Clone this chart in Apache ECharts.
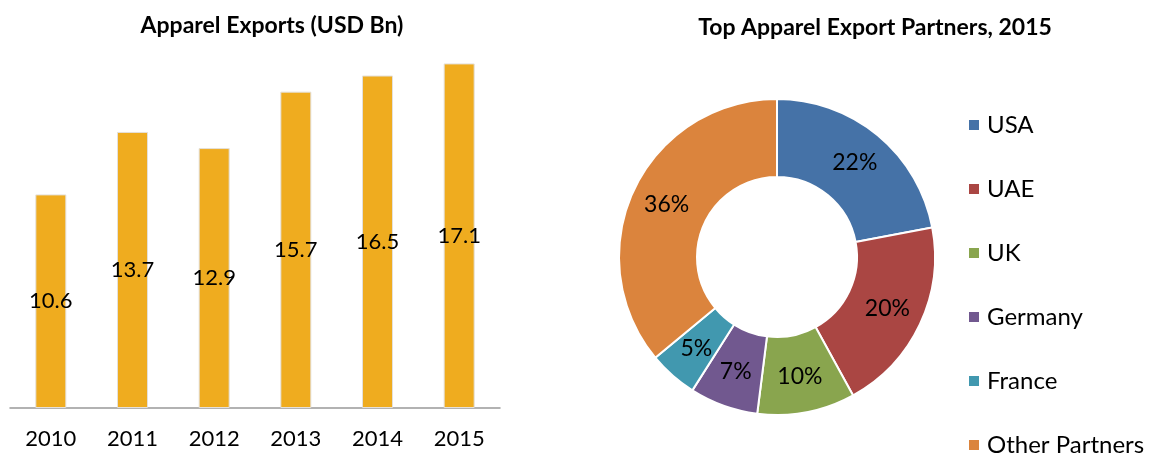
<!DOCTYPE html>
<html>
<head>
<meta charset="utf-8">
<script src="https://cdn.jsdelivr.net/npm/echarts@6/dist/echarts.min.js"></script>
<style>
  html, body { margin: 0; padding: 0; background: #fff; }
  #main { width: 1154px; height: 457px; }
</style>
</head>
<body>
<div id="main"></div>
<script>
// bar chart data
var years = ['2010', '2011', '2012', '2013', '2014', '2015'];
var exportsBn = [10.6, 13.7, 12.9, 15.7, 16.5, 17.1];

// donut data
var partners = ['USA', 'UAE', 'UK', 'Germany', 'France', 'Other Partners'];
var partnerShare = [22, 20, 10, 7, 5, 36];
var partnerColors = ['#4572A7', '#AA4643', '#89A54E', '#71588F', '#4198AF', '#DB843D'];

var font = 'Lato, "Noto Sans", sans-serif';

var myChart = echarts.init(document.getElementById('main'));

var pieData = partners.map(function (name, i) {
    return { name: name, value: partnerShare[i], itemStyle: { color: partnerColors[i] } };
});

var option = {
    backgroundColor: '#fff',
    animation: false,
    textStyle: { fontFamily: font },
    title: [
        {
            text: 'Apparel Exports (USD Bn)',
            left: 267, top: 9, textAlign: 'center',
            textStyle: { fontFamily: font, fontWeight: 'bold', fontSize: 23, color: '#000' }
        },
        {
            text: 'Top Apparel Export Partners, 2015',
            left: 870, top: 11, textAlign: 'center',
            textStyle: { fontFamily: font, fontWeight: 'bold', fontSize: 23, color: '#000' }
        }
    ],
    legend: {
        orient: 'vertical',
        left: 967, top: 113,
        padding: 0,
        itemWidth: 12, itemHeight: 12,
        itemGap: 40,
        icon: 'rect',
        data: partners,
        textStyle: { fontFamily: font, fontSize: 24, color: '#000', padding: [0, 0, 0, 2] }
    },
    grid: { left: 10, top: 5, width: 490, height: 403 },
    xAxis: {
        type: 'category',
        data: years,
        axisLine: { lineStyle: { color: '#999', width: 1.5 } },
        axisTick: { length: 10, lineStyle: { color: '#999', width: 1.5 } },
        axisLabel: { fontFamily: font, fontSize: 22, color: '#000', margin: 20 }
    },
    yAxis: {
        type: 'value', min: 0, max: 20,
        show: false,
        splitLine: { show: false }
    },
    series: [
        {
            type: 'bar',
            data: exportsBn,
            barWidth: 31,
            itemStyle: { color: '#EFAC1F', borderColor: '#e4e0da', borderWidth: 1 },
            label: {
                show: true, position: 'inside',
                fontFamily: font, fontSize: 22, color: '#000'
            }
        },
        {
            type: 'pie',
            center: [777, 257],
            radius: [80, 158],
            startAngle: 90,
            clockwise: true,
            itemStyle: { borderColor: '#fff', borderWidth: 2 },
            label: {
                show: true, position: 'inside',
                formatter: '{c}%',
                fontFamily: font, fontSize: 23, color: '#000'
            },
            labelLine: { show: false },
            emphasis: { disabled: true },
            data: pieData
        }
    ]
};

myChart.setOption(option);
</script>
</body>
</html>
